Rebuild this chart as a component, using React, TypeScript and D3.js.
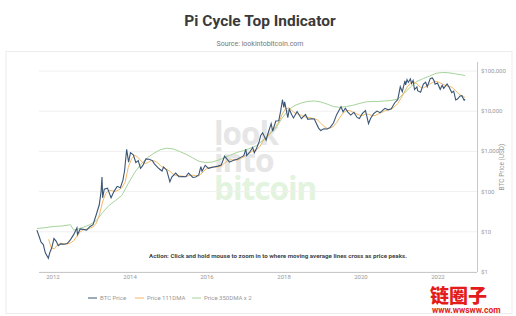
import React from "react";
import * as d3 from "d3";

// ---- data ----
const priceDates = [
  "2011-08-01","2011-08-20","2011-09-10","2011-10-01","2011-10-20","2011-11-18","2011-12-01","2011-12-20",
  "2012-01-10","2012-02-01","2012-02-20","2012-03-15","2012-04-15","2012-05-15","2012-06-15","2012-07-15",
  "2012-08-15","2012-08-20","2012-09-15","2012-10-15","2012-11-15","2012-12-15",
  "2013-01-15","2013-02-15","2013-03-15","2013-04-01","2013-04-10","2013-04-16","2013-05-01","2013-06-01",
  "2013-07-05","2013-08-01","2013-09-01","2013-10-01","2013-10-25","2013-11-10","2013-11-30","2013-12-18",
  "2014-01-05","2014-02-01","2014-02-25","2014-03-20","2014-04-10","2014-05-01","2014-06-01","2014-07-01",
  "2014-08-01","2014-08-20","2014-09-20","2014-10-10","2014-11-01","2014-11-15","2014-12-15",
  "2015-01-14","2015-02-01","2015-03-10","2015-04-10","2015-05-15","2015-06-15","2015-07-10","2015-08-20",
  "2015-09-15","2015-10-15","2015-11-04","2015-11-15","2015-12-15",
  "2016-01-15","2016-02-15","2016-03-15","2016-04-15","2016-05-15","2016-06-16","2016-07-01","2016-08-02",
  "2016-09-15","2016-10-15","2016-11-15","2016-12-15",
  "2017-01-04","2017-01-12","2017-02-15","2017-03-10","2017-03-25","2017-04-15","2017-05-10","2017-05-25",
  "2017-06-12","2017-07-15","2017-08-01","2017-09-01","2017-09-15","2017-10-15","2017-11-12","2017-11-30",
  "2017-12-17","2017-12-30",
  "2018-01-07","2018-02-06","2018-02-20","2018-03-15","2018-04-01","2018-05-05","2018-06-15","2018-07-24",
  "2018-08-15","2018-09-15","2018-10-15","2018-11-25","2018-12-15",
  "2019-01-15","2019-02-15","2019-03-15","2019-04-15","2019-05-15","2019-06-26","2019-07-15","2019-08-06",
  "2019-08-30","2019-09-26","2019-10-26","2019-11-25","2019-12-17",
  "2020-01-15","2020-02-13","2020-03-13","2020-04-01","2020-04-30","2020-06-01","2020-07-01","2020-08-15",
  "2020-09-15","2020-10-15","2020-11-15","2020-12-15",
  "2021-01-08","2021-01-27","2021-02-21","2021-02-28","2021-03-13","2021-03-25","2021-04-14","2021-04-25",
  "2021-05-10","2021-05-23","2021-06-15","2021-06-22","2021-07-20","2021-08-15","2021-09-06","2021-09-21",
  "2021-10-20","2021-11-09","2021-11-28","2021-12-04","2021-12-27",
  "2022-01-22","2022-02-10","2022-02-24","2022-03-28","2022-04-15","2022-05-12","2022-05-30","2022-06-18",
  "2022-07-05","2022-07-30","2022-08-15","2022-09-06","2022-09-15"
];
const priceValues = [
  11,8,5.5,4.8,3.0,2.2,3.0,4.0,
  6.8,5.8,4.5,5.0,4.9,5.1,6.4,8.5,
  12.5,8.5,11.8,11.5,11.0,13.4,
  15,27,47,100,230,70,115,122,
  70,100,135,125,190,330,1130,540,
  930,820,530,590,380,440,650,640,
  590,490,400,360,325,410,340,
  175,230,290,235,236,235,290,225,
  230,260,420,320,450,
  380,400,415,430,455,760,680,540,
  610,640,710,780,
  1130,780,1010,1250,920,1180,1750,2500,
  2900,1900,2750,4900,3200,5700,5800,10000,
  19300,12500,
  17000,6900,11200,8200,6800,9800,6500,8300,
  6300,6500,6400,3800,3300,
  3650,3600,3950,5100,8200,12900,9700,11800,
  9500,8000,9400,7000,6600,
  8800,10400,4900,6600,8700,10100,9200,11800,
  10800,11500,16000,19400,
  40500,30500,57000,45000,61000,52000,63500,49000,
  58000,34500,40000,32500,29800,47000,52500,40500,
  65500,67500,55000,47000,50500,
  35000,44000,37000,47500,40000,29000,31500,19000,
  20000,24000,24300,18800,20000
];

const dma111Dates = [
  "2011-11-20","2011-12-15","2012-01-15","2012-02-15","2012-03-15","2012-04-15","2012-05-15","2012-06-15",
  "2012-07-15","2012-08-15","2012-09-15","2012-10-15","2012-11-15","2012-12-15",
  "2013-01-15","2013-02-15","2013-03-15","2013-04-15","2013-05-15","2013-06-15","2013-07-15","2013-08-15",
  "2013-09-15","2013-10-15","2013-11-15","2013-12-15",
  "2014-01-15","2014-02-15","2014-03-15","2014-04-15","2014-05-15","2014-06-15","2014-07-15","2014-08-15",
  "2014-09-15","2014-10-15","2014-11-15","2014-12-15",
  "2015-01-15","2015-02-15","2015-03-15","2015-04-15","2015-05-15","2015-06-15","2015-07-15","2015-08-15",
  "2015-09-15","2015-10-15","2015-11-15","2015-12-15",
  "2016-01-15","2016-02-15","2016-03-15","2016-04-15","2016-05-15","2016-06-15","2016-07-15","2016-08-15",
  "2016-09-15","2016-10-15","2016-11-15","2016-12-15",
  "2017-01-15","2017-02-15","2017-03-15","2017-04-15","2017-05-15","2017-06-15","2017-07-15","2017-08-15",
  "2017-09-15","2017-10-15","2017-11-15","2017-12-15",
  "2018-01-15","2018-02-15","2018-03-15","2018-04-15","2018-05-15","2018-06-15","2018-07-15","2018-08-15",
  "2018-09-15","2018-10-15","2018-11-15","2018-12-15",
  "2019-01-15","2019-02-15","2019-03-15","2019-04-15","2019-05-15","2019-06-15","2019-07-15","2019-08-15",
  "2019-09-15","2019-10-15","2019-11-15","2019-12-15",
  "2020-01-15","2020-02-15","2020-03-15","2020-04-15","2020-05-15","2020-06-15","2020-07-15","2020-08-15",
  "2020-09-15","2020-10-15","2020-11-15","2020-12-15",
  "2021-01-15","2021-02-15","2021-03-15","2021-04-15","2021-05-15","2021-06-15","2021-07-15","2021-08-15",
  "2021-09-15","2021-10-15","2021-11-15","2021-12-15",
  "2022-01-15","2022-02-15","2022-03-15","2022-04-15","2022-05-15","2022-06-15","2022-07-15","2022-08-15",
  "2022-09-15"
];
const dma111Values = [
  6.5,4.0,3.8,4.8,5.2,5.0,5.0,5.3,
  6.0,7.8,10.0,11.2,11.7,12.2,
  13.3,16.5,26,55,90,108,105,100,
  110,125,170,400,
  650,800,720,580,500,520,580,590,
  530,450,390,360,
  320,270,250,250,240,237,250,255,
  250,245,290,350,
  390,400,405,415,430,510,590,620,
  610,610,660,730,
  850,930,1050,1100,1300,1800,2250,2600,
  3400,4200,5500,8500,
  11500,12000,10500,9000,8400,7800,7300,7000,
  6800,6500,6100,5000,
  4200,3700,3800,4200,5200,7000,9000,10300,
  10400,9500,8700,8000,
  7800,8500,8300,7800,7800,8600,9300,10200,
  10800,11300,12800,15500,
  21000,30000,40000,50000,54000,48000,40000,38000,
  42000,47000,53000,55000,
  52000,47000,43000,42000,39000,33000,27000,24000,
  22000
];

const dma350x2Dates = [
  "2011-08-01","2011-10-01","2012-01-01","2012-04-01","2012-06-15","2012-07-15","2012-08-15","2012-10-15",
  "2012-12-15","2013-02-15","2013-04-15","2013-06-15","2013-08-15","2013-10-15","2013-12-15",
  "2014-02-15","2014-04-15","2014-06-15","2014-08-15","2014-10-15","2014-12-15",
  "2015-02-15","2015-04-15","2015-06-15","2015-08-15","2015-10-15","2015-12-15",
  "2016-02-15","2016-04-15","2016-06-15","2016-08-15","2016-10-15","2016-12-15",
  "2017-02-15","2017-04-15","2017-06-15","2017-08-15","2017-10-15","2017-12-15",
  "2018-02-15","2018-04-15","2018-06-15","2018-08-15","2018-10-15","2018-12-15",
  "2019-02-15","2019-04-15","2019-06-15","2019-08-15","2019-10-15","2019-12-15",
  "2020-02-15","2020-04-15","2020-06-15","2020-08-15","2020-10-15","2020-12-15",
  "2021-02-15","2021-04-15","2021-06-15","2021-08-15","2021-10-15","2021-12-15",
  "2022-02-15","2022-04-15","2022-06-15","2022-08-15","2022-09-15"
];
const dma350x2Values = [
  12,12.5,13.5,14,15,11,11.5,13,
  15,19,30,45,60,80,160,
  300,480,700,900,1100,1200,
  1150,1000,850,700,570,530,
  540,600,700,820,950,1050,
  1200,1400,1900,2700,3800,6800,
  11000,14000,16000,17500,18000,17000,
  15000,13000,12500,13000,14000,15500,
  17000,17500,17500,18000,18500,20000,
  28000,40000,55000,65000,75000,88000,
  92000,90000,85000,80000,77000
];

const xTickYears = ["2012","2014","2016","2018","2020","2022"];
const yTickValues = [1, 10, 100, 1000, 10000, 100000];
const legendLabels = ["BTC Price", "Price 111DMA", "Price 350DMA x 2"];

const COLORS = { price: "#3a5676", d111: "#f2b866", d350: "#a6d49b" };

export default function App() {
  const parse = d3.timeParse("%Y-%m-%d");
  const x = d3.scaleTime()
    .domain([parse("2012-01-01")!, parse("2022-01-01")!])
    .range([53, 438]);
  const y = d3.scaleLog().domain([1, 100000]).range([272, 71]);

  const mk = (dates: string[], vals: number[]) =>
    dates.map((d, i) => ({ d: parse(d)!, v: vals[i] }));
  const line = d3.line<{ d: Date; v: number }>()
    .x((p) => x(p.d))
    .y((p) => y(p.v))
    .curve(d3.curveLinear);

  const price = mk(priceDates, priceValues);
  const d111 = mk(dma111Dates, dma111Values);
  const d350 = mk(dma350x2Dates, dma350x2Values);

  const plotL = 39, plotR = 477, plotT = 62, plotB = 272;
  const fmt = d3.format(",");
  const legendX = [88, 135, 192];

  return (
    <svg width={516} height={316} style={{ position: "absolute", left: 0, top: 0, background: "#fff" }}
      fontFamily="Roboto, 'Open Sans', sans-serif">
      <rect x={0} y={0} width={516} height={316} fill="#fff" />
      <text x={260} y={26} textAnchor="middle" fontSize={15.5} fontWeight={700} fill="#3a3a3a">
        Pi Cycle Top Indicator
      </text>
      <text x={260} y={46} textAnchor="middle" fontSize={7} fill="#777">Source: lookintobitcoin.com</text>
      <rect x={6} y={51.5} width={506} height={262} fill="#fff" stroke="#ececec" strokeWidth={1} />

      {/* watermark */}
      <g fontFamily="'Open Sans', Lato, sans-serif" fontWeight={700} fontSize={31.5} letterSpacing={-1}>
        <text x={214} y={145} fill="#e6e6e6">look</text>
        <text x={214} y={172} fill="#e6e6e6">into</text>
        <text x={214} y={200} fill="#e2f3de">bitcoin</text>
      </g>

      {/* grid */}
      {yTickValues.map((v) => (
        <line key={v} x1={plotL} x2={plotR} y1={y(v)} y2={y(v)} stroke="#f0f0f0" strokeWidth={1} />
      ))}
      <line x1={plotL} x2={plotR} y1={plotB + 0.5} y2={plotB + 0.5} stroke="#c8c8c8" />
      <line x1={plotR + 0.5} x2={plotR + 0.5} y1={plotT} y2={plotB} stroke="#c8c8c8" />

      {/* series */}
      <path d={line(d350)!} fill="none" stroke={COLORS.d350} strokeWidth={1} />
      <path d={line(d111)!} fill="none" stroke={COLORS.d111} strokeWidth={1} />
      <path d={line(price)!} fill="none" stroke={COLORS.price} strokeWidth={1.1} />

      {/* axes labels */}
      {yTickValues.map((v) => (
        <text key={v} x={481} y={y(v) + 2} fontSize={6} fill="#999">${fmt(v)}</text>
      ))}
      {xTickYears.map((t) => (
        <text key={t} x={x(parse(t + "-01-01")!)} y={279} textAnchor="middle" fontSize={6} fill="#999">{t}</text>
      ))}
      <text transform={`translate(504,${(plotT + plotB) / 2}) rotate(-90)`} textAnchor="middle" fontSize={6.5} fill="#999">
        BTC Price (USD)
      </text>

      <text x={278} y={258} textAnchor="middle" fontSize={6.2} fontWeight={700} fill="#444">
        Action: Click and hold mouse to zoom in to where moving average lines cross as price peaks.
      </text>

      {/* legend */}
      {legendLabels.map((l, i) => {
        const c = [COLORS.price, COLORS.d111, COLORS.d350][i];
        return (
          <g key={l}>
            <line x1={legendX[i]} x2={legendX[i] + 9} y1={298} y2={298} stroke={c} strokeWidth={1} />
            <text x={legendX[i] + 12} y={300} fontSize={6} fill="#999">{l}</text>
          </g>
        );
      })}

      {/* site watermark */}
      <text x={430} y={303} fontFamily="'Noto Sans CJK SC', sans-serif" fontWeight={900} fontSize={19} fill="#e31b1b">链圈子</text>
      <text x={432} y={313} fontFamily="Roboto, sans-serif" fontWeight={700} fontSize={8.5} fill="#e31b1b">www.wwsww.com</text>
    </svg>
  );
}
